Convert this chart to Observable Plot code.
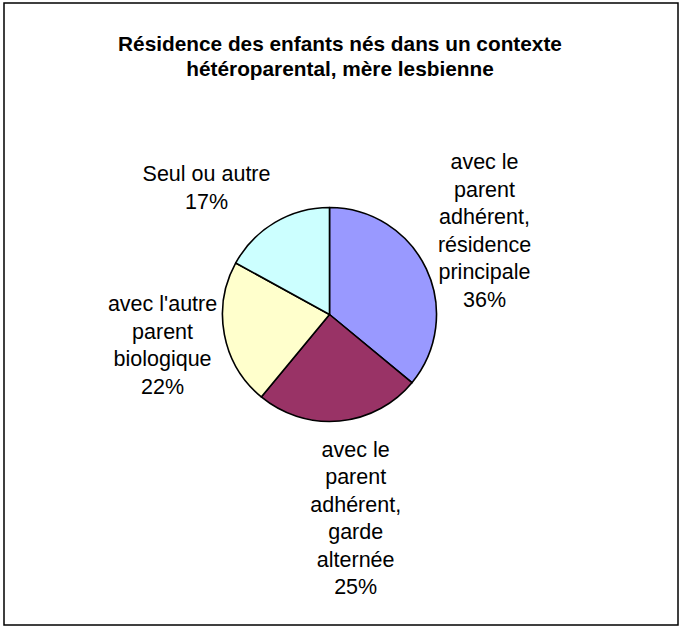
<!DOCTYPE html>
<html>
<head>
<meta charset="utf-8">
<script src="https://cdn.jsdelivr.net/npm/d3@7"></script>
<script src="https://cdn.jsdelivr.net/npm/@observablehq/plot@0.6"></script>
<style>
  html, body { margin: 0; padding: 0; background: #fff; }
</style>
</head>
<body>
<div id="chart"></div>
<script>
// ---- data ----
const titleText = "Résidence des enfants nés dans un contexte\nhétéroparental, mère lesbienne";
const categories = [
  "avec le parent adhérent, résidence principale",
  "avec le parent adhérent, garde alternée",
  "avec l'autre parent biologique",
  "Seul ou autre"
];
const labelText = [
  "avec le\nparent\nadhérent,\nrésidence\nprincipale",
  "avec le\nparent\nadhérent,\ngarde\nalternée",
  "avec l'autre\nparent\nbiologique",
  "Seul ou autre"
];
const shares = [36, 25, 22, 17];
const colors = ["#9999FF", "#993366", "#FFFFCC", "#CCFFFF"];

// ---- layout (pie radius units, center = 0,0) ----
const W = 679, H = 628;
const cxPx = 329.5, cyPx = 314.5, rPx = 107;
const labelAt = [[1.444, 0.80], [0.24, -1.885], [-1.565, -0.27], [-1.154, 1.205]];

const rows = categories.map((c, i) => ({
  category: c,
  share: shares[i],
  label: labelText[i] + "\n" + shares[i] + "%",
  lx: labelAt[i][0],
  ly: labelAt[i][1]
}));

function pieMark(index, scales) {
  const x = scales.x, y = scales.y;
  const cx = x(0), cy = y(0), r = x(1) - x(0);
  const arcs = d3.pie().sort(null).value(d => d.share)(rows);
  const arc = d3.arc().innerRadius(0).outerRadius(r);
  const g = d3.create("svg:g").attr("transform", `translate(${cx},${cy})`);
  g.selectAll("path").data(arcs).join("path")
    .attr("d", arc)
    .attr("fill", (d, i) => colors[i])
    .attr("stroke", "#000")
    .attr("stroke-width", 1.6)
    .attr("stroke-linejoin", "round");
  return g.node();
}

const chart = Plot.plot({
  width: W,
  height: H,
  margin: 0,
  x: { domain: [-cxPx / rPx, (W - cxPx) / rPx], axis: null },
  y: { domain: [-(H - cyPx) / rPx, cyPx / rPx], axis: null },
  style: { fontFamily: "'Liberation Sans', Arial, sans-serif", background: "#fff", overflow: "visible" },
  marks: [
    Plot.frame({ stroke: "#000", strokeWidth: 1.5, insetLeft: 3.5, insetTop: 2.5, insetRight: 1.5, insetBottom: 3.5 }),
    Plot.text([titleText], {
      frameAnchor: "top", dy: 33, lineAnchor: "top",
      fontSize: 20.8, fontWeight: "bold", lineHeight: 1.2, fill: "#000"
    }),
    pieMark,
    Plot.text(rows, {
      x: "lx", y: "ly", text: "label",
      fontSize: 21.5, lineHeight: 1.28, lineAnchor: "middle", textAnchor: "middle", fill: "#000"
    })
  ]
});
document.getElementById("chart").append(chart);
</script>
</body>
</html>
